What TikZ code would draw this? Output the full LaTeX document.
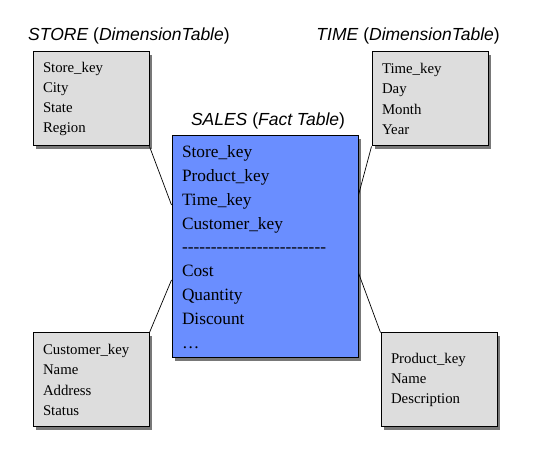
\documentclass[tikz,border=0pt]{standalone}
\usepackage{fontspec}
\setmainfont{Liberation Serif}
\newfontfamily\titlefont{Liberation Sans}
\usepackage{xcolor}
\usetikzlibrary{positioning, shadows}

\definecolor{dimgray}{RGB}{221,221,221}
\definecolor{factblue}{RGB}{106,142,255}
\definecolor{shadowgray}{RGB}{120,120,120}

\newcommand{\sepline}{\foreach \i in {1,...,25}{-}}

\begin{document}
\begin{tikzpicture}[
    x=1pt, y=1pt,
    dimbox/.style={rectangle, draw=black, fill=dimgray, line width=1pt, inner xsep=10pt, inner ysep=0pt, text width=96pt, minimum height=94pt, align=left, font=\fontsize{14.8}{20.3}\selectfont, drop shadow={shadow xshift=3pt, shadow yshift=-3pt, fill=shadowgray, opacity=1}},
    factbox/.style={dimbox, fill=factblue, text width=166pt, minimum height=222pt, font=\fontsize{17.3}{23.8}\selectfont},
    title/.style={inner sep=0pt, font=\titlefont\fontsize{17.5}{20}\selectfont},
    link/.style={draw=black, line width=0.7pt}
]
\useasboundingbox (0,0) rectangle (540,449);

% fact table
\node[factbox] (sales) at (265,202) {Store\_key\\Product\_key\\Time\_key\\Customer\_key\\\sepline\\Cost\\Quantity\\Discount\\\dots};
\node[title, anchor=base] (salest) at (268,323) {\textit{SALES} (\textit{Fact Table})};

% dimension tables
\node[dimbox] (store) at (91,350) {Store\_key\\City\\State\\Region};
\node[title, anchor=base west] (storet) at (28,408) {\textit{STORE} (\textit{DimensionTable})};

\node[dimbox] (time) at (430,350) {Time\_key\\Day\\Month\\Year};
\node[title, anchor=base east] (timet) at (500,408) {\textit{TIME} (\textit{DimensionTable})};

\node[dimbox] (customer) at (91,69) {Customer\_key\\Name\\Address\\Status};

\node[dimbox] (product) at (439,69) {Product\_key\\Name\\Description};

% links
\draw[link] (store.south east) -- ([yshift=42pt]sales.west);
\draw[link] (time.south west) -- ([yshift=52pt]sales.east);
\draw[link] (customer.north east) -- ([yshift=-33pt]sales.west);
\draw[link] (product.north west) -- ([yshift=-26pt]sales.east);

\end{tikzpicture}
\end{document}
